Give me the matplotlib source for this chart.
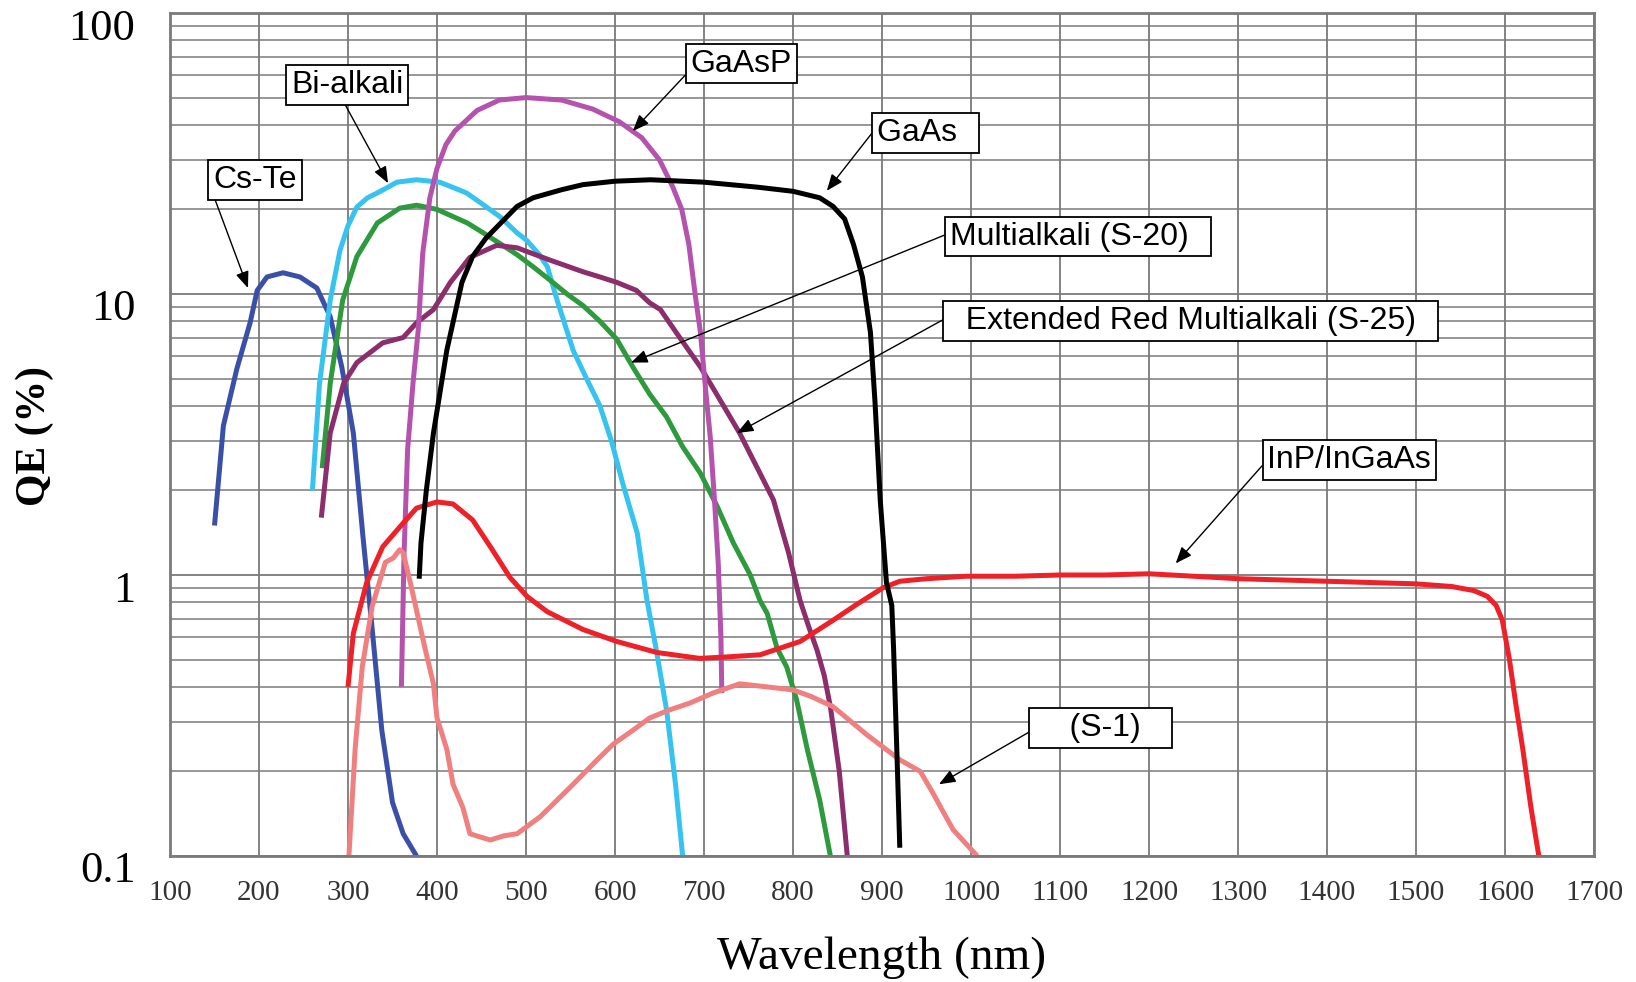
import matplotlib
matplotlib.use("Agg")
import matplotlib.pyplot as plt
import matplotlib.transforms as mtransforms
from matplotlib.ticker import LogLocator, NullFormatter

# curve data: wavelength (nm) and QE (%)
cs_te_nm = [150, 160, 175, 190, 198, 209, 227, 246, 265, 280, 293, 306, 317, 327, 338, 350, 362, 377]
cs_te_qe = [1.5, 3.4, 5.4, 7.9, 10.3, 11.5, 11.9, 11.5, 10.5, 8.3, 5.5, 3.2, 1.35, 0.65, 0.28, 0.155, 0.12, 0.1]

bialkali_nm = [260, 268, 280, 291, 300, 310, 322, 333, 345, 355, 377, 403, 420, 433, 450, 471, 490,
               501, 515, 524, 535, 553, 568, 583, 596, 609, 625, 636, 646, 658, 668, 676]
bialkali_qe = [2.0, 4.8, 9.5, 14.3, 17.5, 20.4, 22.0, 22.9, 24.0, 25.0, 25.5, 25.0, 23.8, 22.9, 21.0,
               18.8, 16.5, 15.5, 13.8, 12.5, 9.5, 6.3, 5.0, 4.0, 3.0, 2.1, 1.41, 0.81, 0.55, 0.33, 0.18, 0.1]

s20_nm = [271, 280, 294, 310, 333, 358, 377, 400, 434, 452, 471, 490, 508, 527, 546, 564, 583, 602,
          620, 639, 658, 676, 696, 715, 733, 752, 763, 771, 782, 793, 804, 816, 830, 842]
s20_qe = [2.4, 4.8, 9.5, 13.6, 17.9, 20.2, 20.7, 20.0, 17.9, 16.5, 15.1, 13.8, 12.5, 11.2, 10.0, 9.1,
          8.0, 6.9, 5.5, 4.4, 3.65, 2.86, 2.3, 1.75, 1.3, 1.0, 0.81, 0.73, 0.55, 0.47, 0.36, 0.24, 0.158, 0.1]

s25_nm = [270, 280, 295, 310, 339, 362, 377, 396, 415, 437, 467, 490, 527, 564, 583, 602, 624, 639,
          651, 670, 696, 718, 740, 760, 778, 795, 808, 818, 827, 835, 842, 852, 861]
s25_qe = [1.6, 3.2, 4.8, 5.7, 6.7, 7.0, 7.9, 8.8, 11.0, 13.5, 14.9, 14.6, 13.2, 12.0, 11.5, 11.0,
          10.3, 9.3, 8.8, 7.2, 5.5, 4.2, 3.2, 2.4, 1.85, 1.2, 0.81, 0.65, 0.54, 0.44, 0.34, 0.2, 0.1]

gaasp_nm = [360, 363, 367, 373, 379, 384, 392, 400, 410, 420, 445, 470, 500, 540, 575, 605, 630,
            650, 665, 675, 683, 690, 696, 702, 707, 712, 716, 719, 720]
gaasp_qe = [0.4, 1.2, 2.8, 4.8, 7.5, 14, 22, 28, 34, 38, 45, 49, 50, 49, 45.5, 41, 36, 30, 24, 20,
            15, 10, 7.3, 4.5, 3.1, 1.8, 1.1, 0.6, 0.38]

gaas_nm = [380, 382, 388, 396, 411, 428, 440, 455, 471, 490, 508, 540, 564, 600, 640, 700, 760, 800,
           830, 845, 858, 868, 878, 887, 892, 898, 905, 911, 913, 917, 920]
gaas_qe = [0.97, 1.3, 2.0, 3.2, 6.3, 11, 13.6, 15.8, 17.8, 20.5, 22.0, 23.5, 24.5, 25.2, 25.5, 25.0,
           24.0, 23.2, 22.0, 20.5, 18.5, 15.0, 11.5, 7.3, 4.2, 1.85, 0.94, 0.78, 0.55, 0.22, 0.107]

inp_nm = [300, 306, 321, 339, 358, 377, 400, 418, 440, 460, 482, 501, 524, 564, 602, 647, 695, 721,
          763, 808, 845, 870, 901, 920, 950, 995, 1050, 1100, 1150, 1200, 1250, 1300, 1350, 1400,
          1450, 1500, 1540, 1565, 1580, 1590, 1597, 1605, 1612, 1620, 1629, 1638]
inp_qe = [0.40, 0.62, 0.94, 1.26, 1.48, 1.73, 1.82, 1.79, 1.57, 1.26, 0.98, 0.84, 0.74, 0.64, 0.58,
          0.53, 0.505, 0.51, 0.52, 0.58, 0.69, 0.78, 0.9, 0.95, 0.97, 0.99, 0.99, 1.0, 1.0, 1.01,
          0.99, 0.97, 0.96, 0.95, 0.94, 0.93, 0.91, 0.88, 0.84, 0.78, 0.69, 0.5, 0.35, 0.24, 0.15, 0.1]

s1_nm = [301, 308, 316, 327, 342, 351, 358, 362, 370, 387, 396, 400, 411, 418, 429, 437, 448, 460,
         475, 490, 516, 553, 580, 598, 620, 639, 660, 684, 710, 740, 770, 800, 820, 845, 883, 920,
         943, 957, 968, 980, 1007]
s1_qe = [0.1, 0.24, 0.47, 0.77, 1.11, 1.15, 1.23, 1.2, 0.94, 0.54, 0.41, 0.31, 0.24, 0.18, 0.149,
         0.12, 0.117, 0.114, 0.118, 0.12, 0.138, 0.18, 0.22, 0.25, 0.28, 0.31, 0.33, 0.35, 0.38,
         0.41, 0.40, 0.39, 0.37, 0.34, 0.27, 0.22, 0.2, 0.168, 0.145, 0.124, 0.1]

# annotation labels, box centres and arrow tips (data coords)
labels = ["Cs-Te", "Bi-alkali", "GaAsP", "GaAs  ", "Multialkali (S-20)  ",
          "  Extended Red Multialkali (S-25)  ", "InP/InGaAs", "    (S-1)   "]
label_x = [195.5, 299, 741.6, 949, 1120, 1247, 1425, 1146]
label_y = [25.5, 55.4, 66, 37.4, 16, 8.0, 2.57, 0.285]
tip_x = [187.6, 345, 620, 838, 618, 737, 1230, 964]
tip_y = [10.5, 24.8, 38, 23.3, 5.7, 3.2, 1.1, 0.18]
arrow_rel = [(0, 0), (0.46, 0), (0, 0.3), (0, 0.7), (0, 0.62), (0, 0.64), (0, 0.5), (0, 0.47)]

fig = plt.figure(figsize=(16.36, 9.82), dpi=100)
ax = fig.add_axes([170 / 1636, 1 - 856 / 982, 1424 / 1636, 843 / 982])

# draw curves
line_kw = dict(lw=3.6, solid_joinstyle="round", solid_capstyle="butt")
ax.plot(cs_te_nm, cs_te_qe, color="#3a50a8", **line_kw)
ax.plot(bialkali_nm, bialkali_qe, color="#36c3f0", **line_kw)
ax.plot(s20_nm, s20_qe, color="#2e9a3e", **line_kw)
ax.plot(s25_nm, s25_qe, color="#8c2d6c", **line_kw)
ax.plot(gaasp_nm, gaasp_qe, color="#b552ae", **line_kw)
ax.plot(s1_nm, s1_qe, color="#f08080", **line_kw)
ax.plot(inp_nm, inp_qe, color="#ee2028", **line_kw)
ax.plot(gaas_nm, gaas_qe, color="black", **line_kw)

ax.set_yscale("log")
ax.set_xlim(100, 1700)
ax.set_ylim(0.1, 100)
ax.set_xticks(range(100, 1701, 100))
ax.set_yticks([0.1, 1, 10, 100])
ax.set_yticklabels(["0.1", "1", "10", "100"])
ax.yaxis.set_minor_locator(LogLocator(base=10, subs=range(2, 10)))
ax.yaxis.set_minor_formatter(NullFormatter())
ax.tick_params(which="both", length=0)
ax.tick_params(axis="x", pad=17, labelsize=21, labelcolor="#333333")
ax.tick_params(axis="y", pad=25, labelsize=32)
ax.grid(which="major", color="#7a7a7a", lw=1.3)
ax.grid(which="minor", axis="y", color="#7a7a7a", lw=1.1)
ax.set_axisbelow(True)
for sp in ax.spines.values():
    sp.set_color("#7a7a7a")
    sp.set_linewidth(2)

for lab in ax.get_xticklabels():
    lab.set_fontfamily("Liberation Serif")
shift = mtransforms.ScaledTranslation(0, -0.11, fig.dpi_scale_trans)
for lab in ax.get_yticklabels():
    lab.set_fontfamily("Liberation Serif")
    lab.set_transform(lab.get_transform() + shift)

fig.text(882 / 1636, 1 - 958 / 982, "Wavelength (nm)", fontsize=34,
         family="Liberation Serif", ha="center", va="center")
fig.text(35 / 1636, 1 - 436 / 982, "QE (%)", fontsize=30, weight="bold",
         family="Liberation Serif", rotation=90, ha="center", va="center")

# labels with arrows
for i in range(len(labels)):
    ax.annotate(labels[i], xy=(tip_x[i], tip_y[i]), xytext=(label_x[i], label_y[i]),
                ha="center", va="center", fontsize=23, family="Liberation Sans",
                bbox=dict(boxstyle="square,pad=0.15", fc="white", ec="black", lw=1.3),
                arrowprops=dict(arrowstyle="-|>,head_length=0.5,head_width=0.2",
                                color="black", lw=1.0, shrinkA=0, shrinkB=0,
                                relpos=arrow_rel[i], mutation_scale=20))

fig.savefig("out.png", dpi=100, facecolor="white")
